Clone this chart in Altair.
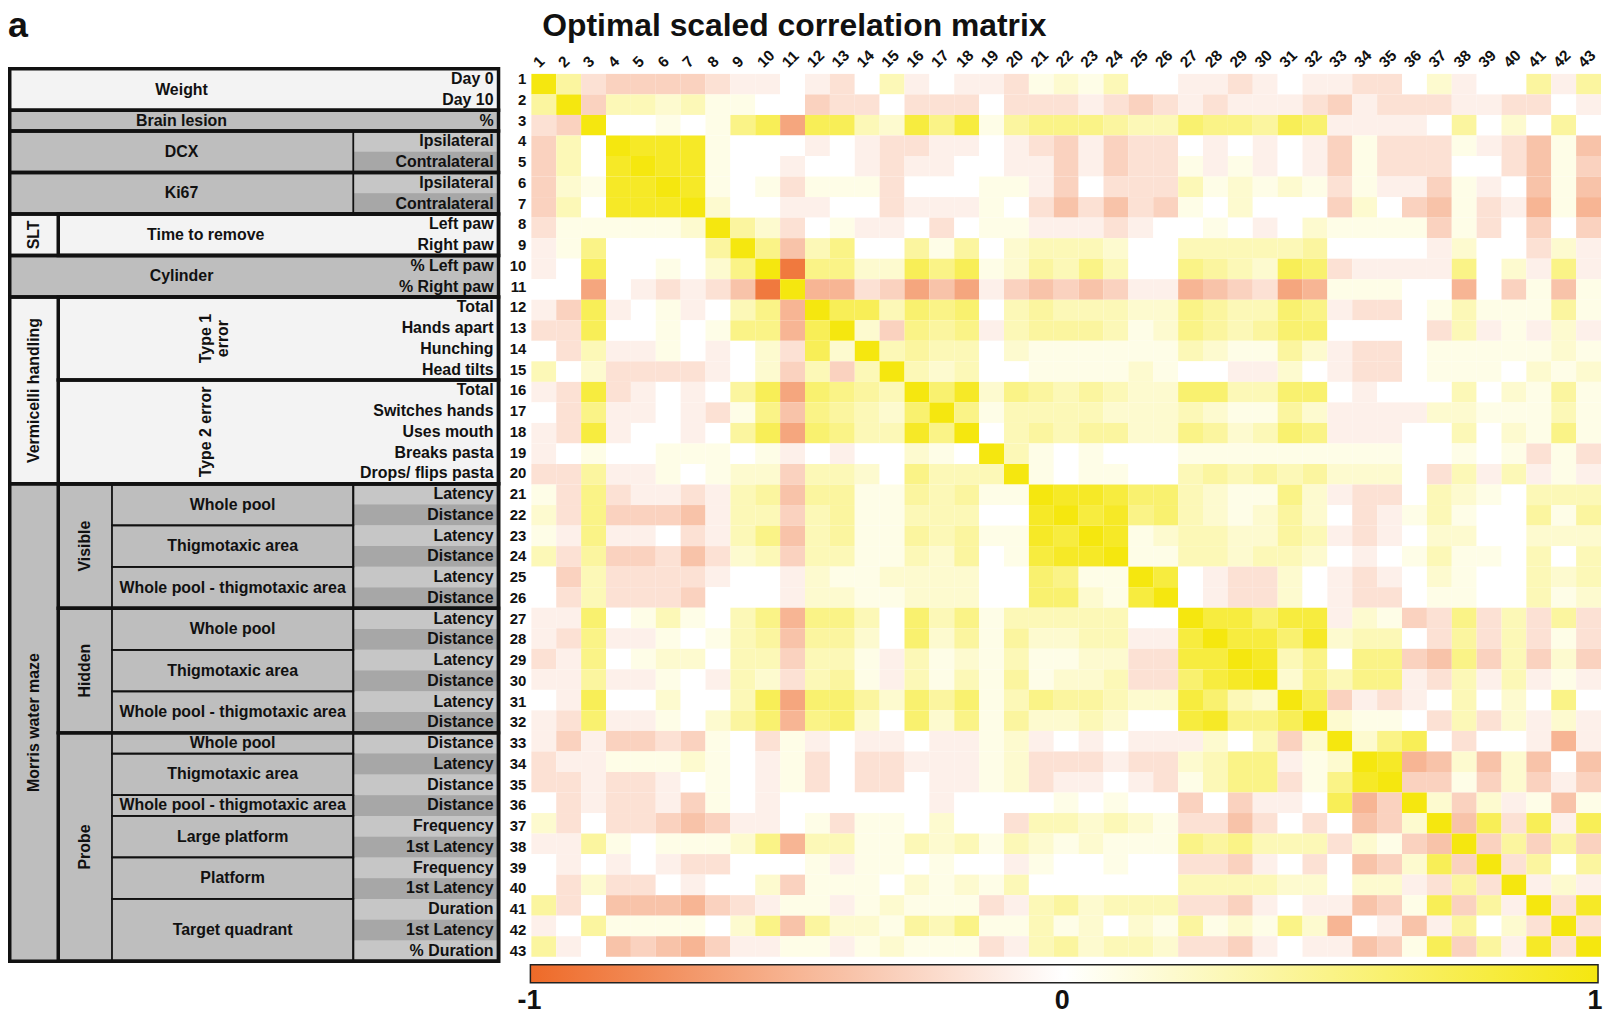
import altair as alt
import pandas as pd

# ---------------- correlation values (tenths), upper triangle ----------------
# row i lists the values for columns i+1 .. 43 (matrix is symmetric, diagonal = 1)
r01 = [4,-2,-3,-3,-3,-3,-2,-1,-1,0,-1,-2,0,3,-1,0,-1,-1,-2,1,2,1,3,0,0,-1,-1,-2,-1,0,-1,-1,-2,-2,0,2,-1,0,0,4,-1,4]
r02 = [-3,3,3,2,3,1,1,0,0,-3,-2,-2,0,-2,-2,-2,0,-2,-2,-2,-1,-2,-3,-2,-1,-2,-1,-1,-1,-2,-3,-1,-2,-2,-2,-1,-1,-2,-2,0,-1]
r03 = [0,0,1,0,1,5,7,-6,7,7,3,2,8,5,8,1,4,5,5,5,4,3,3,6,5,5,4,7,6,-1,-1,-1,-1,0,4,0,2,0,4,0]
r04 = [9,9,9,1,0,0,0,-1,0,-1,-2,-2,-1,-1,0,-1,-2,-3,-1,-3,-2,-2,0,-1,0,-1,0,-1,-3,1,-2,-2,-2,1,-1,-2,-4,1,-4]
r05 = [9,9,1,0,0,-1,0,0,-1,-2,-1,-1,0,0,-1,-1,-3,-1,-3,-2,-2,1,-1,1,-1,0,-1,-3,1,-2,-2,-2,0,0,-2,-4,1,-3]
r06 = [9,1,0,1,-2,1,1,1,-2,0,0,0,1,1,-1,-3,0,-2,-2,-2,3,1,2,1,2,1,-2,1,-1,-1,-3,1,-1,0,-4,1,-4]
r07 = [2,0,0,-1,-1,0,0,-2,-1,-1,-1,1,0,-2,-4,-2,-4,-2,-3,1,0,2,0,0,0,-3,2,0,-3,-4,1,-2,-1,-5,1,-5]
r08 = [4,2,-2,0,1,-1,-1,0,-2,0,1,1,-1,-1,-1,-2,-1,0,0,1,0,-1,0,2,1,1,1,1,-3,1,-2,0,-3,0,-3]
r09 = [5,-4,3,5,0,0,4,1,4,0,2,3,3,3,2,0,0,3,3,3,3,3,4,0,0,0,0,-1,2,0,0,-2,2,-1]
r10 = [-9,5,5,2,2,7,5,7,1,2,4,3,5,3,0,0,5,4,3,2,7,6,-2,-1,-1,-1,-1,5,0,2,-1,5,-1]
r11 = [-5,-5,-2,-3,-6,-4,-6,-1,-3,-4,-3,-4,-3,-1,-1,-5,-4,-3,-2,-6,-5,1,1,1,0,0,-5,0,-3,1,-4,1]
r12 = [7,7,3,6,5,6,0,3,4,3,3,3,2,2,5,4,3,3,6,5,-1,-2,-2,0,1,3,1,1,1,4,1]
r13 = [2,-3,5,4,5,-1,3,4,4,4,3,1,2,5,4,3,4,6,6,0,0,0,0,-2,3,-1,1,-1,2,-1]
r14 = [3,4,3,3,0,2,1,1,1,1,1,1,3,2,1,1,4,2,-1,-2,-2,0,1,1,1,1,1,2,1]
r15 = [3,2,3,0,0,1,1,1,1,2,1,0,0,-1,-1,2,0,-1,-2,-2,0,1,1,1,0,2,1,2]
r16 = [6,9,2,5,4,3,4,3,2,2,6,6,3,3,6,6,0,-1,0,0,0,3,0,2,1,4,1]
r17 = [5,1,3,3,3,3,2,2,2,3,2,1,1,4,2,-1,-1,-1,-1,2,2,1,1,1,3,1]
r18 = [0,3,4,3,4,4,2,2,5,4,2,3,6,5,-1,-1,-1,0,0,3,0,2,1,5,1]
r19 = [3,1,0,1,0,0,0,1,1,1,1,1,1,1,1,1,0,0,1,0,1,-2,1,-2]
r20 = [1,0,1,1,0,0,3,4,3,4,3,4,2,2,2,0,-2,3,-1,3,-1,1,-1]
r21 = [9,9,8,6,6,3,2,1,1,5,2,-1,-2,-2,0,3,2,1,0,3,3,3]
r22 = [8,9,5,6,3,2,1,2,4,2,0,-2,-1,1,3,1,0,0,4,1,4]
r23 = [9,1,2,3,3,2,2,4,3,-1,-2,-1,0,2,2,0,0,2,2,2]
r24 = [1,1,3,3,2,3,3,2,0,-1,0,1,3,1,1,0,3,0,3]
r25 = [8,0,-1,-2,-2,2,0,-1,-2,-1,0,2,1,0,0,3,2,3]
r26 = [0,-1,-2,-2,2,0,-1,-2,-2,0,1,1,0,0,3,1,2]
r27 = [8,8,6,8,8,-1,2,1,-3,-2,5,-2,3,-2,4,-2]
r28 = [8,8,6,9,2,3,3,0,-2,4,-2,3,-2,1,-2]
r29 = [9,3,5,0,5,5,-3,-4,5,-3,3,-3,2,-3]
r30 = [2,5,3,5,5,-1,-2,3,-1,3,-1,1,-1]
r31 = [7,-3,-1,-2,-1,0,3,0,2,0,5,0]
r32 = [2,1,1,0,-2,3,-2,2,-1,2,-1]
r33 = [2,5,7,0,-2,0,0,-1,-5,-1]
r34 = [9,-5,-4,2,-4,2,-4,0,-4]
r35 = [-3,-3,1,-3,2,-3,-1,-3]
r36 = [2,-3,2,-1,1,-4,1]
r37 = [-4,7,-2,7,-1,7]
r38 = [-3,4,-3,4,-3]
r39 = [-2,4,0,4]
r40 = [-1,2,-1]
r41 = [-2,9]
r42 = [-2]

upper = [r01, r02, r03, r04, r05, r06, r07, r08, r09, r10, r11, r12, r13, r14,
         r15, r16, r17, r18, r19, r20, r21, r22, r23, r24, r25, r26, r27, r28,
         r29, r30, r31, r32, r33, r34, r35, r36, r37, r38, r39, r40, r41, r42]
N = 43
for k, row in enumerate(upper):
    assert len(row) == N - 1 - k, (k + 1, len(row))

# ---------------- table labels ----------------
leaf_labels = ["Day 0", "Day 10", "%", "Ipsilateral", "Contralateral", "Ipsilateral",
               "Contralateral", "Left paw", "Right paw", "% Left paw", "% Right paw",
               "Total", "Hands apart", "Hunching", "Head tilts", "Total", "Switches hands",
               "Uses mouth", "Breaks pasta", "Drops/ flips pasta",
               "Latency", "Distance", "Latency", "Distance", "Latency", "Distance",
               "Latency", "Distance", "Latency", "Distance", "Latency", "Distance",
               "Distance", "Latency", "Distance", "Distance", "Frequency", "1st Latency",
               "Frequency", "1st Latency", "Duration", "1st Latency", "% Duration"]

block_names = ["Weight", "Brain lesion", "DCX", "Ki67", "SLT", "Cylinder",
               "Vermicelli handling", "Morris water maze"]
block_start = [1, 3, 4, 6, 8, 10, 12, 21]
block_end = [2, 3, 5, 7, 9, 11, 20, 43]
block_shade = ["light", "gray", "gray", "gray", "light", "gray", "light", "gray"]
block_label_kind = ["wide", "wide", "wide", "wide", "side", "wide", "side", "side"]

sub_names = ["Time to remove", "Type 1\nerror", "Type 2 error", "Visible", "Hidden", "Probe"]
sub_start = [8, 12, 16, 21, 27, 33]
sub_end = [9, 15, 20, 26, 32, 43]
sub_kind = ["flat", "rot_wide", "rot_wide", "rot", "rot", "rot"]

measure_names = ["Whole pool", "Thigmotaxic area", "Whole pool - thigmotaxic area",
                 "Whole pool", "Thigmotaxic area", "Whole pool - thigmotaxic area",
                 "Whole pool", "Thigmotaxic area", "Whole pool - thigmotaxic area",
                 "Large platform", "Platform", "Target quadrant"]
measure_start = [21, 23, 25, 27, 29, 31, 33, 34, 36, 37, 39, 41]
measure_end = [22, 24, 26, 28, 30, 32, 33, 35, 36, 38, 40, 43]

# rows that have their own shaded leaf cell (light / dark)
leaf_cell_rows = [4, 5, 6, 7] + list(range(21, 44))
leaf_cell_shade = ["lo", "hi", "lo", "hi"] + ["lo" if (r - 21) % 2 == 0 else "hi" for r in range(21, 44)]
leaf_groups_start = [4, 6, 21, 27, 33]
leaf_groups_end = [5, 7, 26, 32, 43]

title_text = "Optimal scaled correlation matrix"
panel_letter = "a"
bar_values = [-1, 0, 1]
bar_labels = ["-1", "0", "1"]

# ---------------- styling ----------------
FONT = "Liberation Sans"
SHADES = {"light": "#F3F3F3", "gray": "#BEBEBE", "lo": "#C6C6C6", "hi": "#A7A7A7"}
NEG, MID, POS = "#EE6A28", "#FFFFFF", "#F5E70F"
XL = [1.75, 50.5, 104.5, 347.0, 493.0]   # table column boundaries (px)

W, H = 1603, 1006
XH = alt.Scale(domain=[0.5, 43.5], range=[526, 1601])     # heatmap columns
YR = alt.Scale(domain=[0.5, 43.5], range=[63.7, 951])     # heatmap rows
YT = alt.Scale(domain=[0.5, 43.5], range=[58.6, 955.4])   # table rows / row numbers
XP = alt.Scale(domain=[0, W], range=[0, W])
XB = alt.Scale(domain=[-1, 1], range=[524, 1595])         # colour bar label axis

# ---------------- heatmap data ----------------
recs = []
for i in range(1, N + 1):
    for j in range(1, N + 1):
        if i == j:
            v = 10
        elif j > i:
            v = upper[i - 1][j - i - 1]
        else:
            v = upper[j - 1][i - j - 1]
        recs.append({"row": i, "col": j, "r": v / 10})
heat_df = pd.DataFrame(recs)

heat = alt.Chart(heat_df).transform_calculate(
    x0="datum.col - 0.5", x1="datum.col + 0.5",
    y0="datum.row - 0.5", y1="datum.row + 0.5",
).mark_rect().encode(
    x=alt.X("x0:Q", scale=XH, axis=None), x2=alt.X2("x1"),
    y=alt.Y("y0:Q", scale=YR, axis=None), y2=alt.Y2("y1"),
    color=alt.Color(
        "r:Q",
        scale=alt.Scale(domain=[-1, 0, 1], range=[NEG, MID, POS], interpolate="rgb"),
        legend=alt.Legend(
            orient="none", legendX=525, legendY=959, direction="horizontal",
            gradientLength=1073, gradientThickness=18, title=None,
            values=bar_values, labelExpr="''",
            gradientStrokeColor="#222", gradientStrokeWidth=1.5, padding=0,
        ),
    ),
)

bar_text = alt.Chart(pd.DataFrame({"v": bar_values, "t": bar_labels})).mark_text(
    align="center", baseline="alphabetic", font=FONT, fontWeight="bold", fontSize=27, color="#111"
).encode(
    x=alt.X("v:Q", scale=XB, axis=None), y=alt.value(1003), text="t:N"
)

# ---------------- table fills ----------------
fill_recs = []
for n, s, e, sh in zip(block_names, block_start, block_end, block_shade):
    fill_recs.append({"xa": XL[0], "xb": XL[4], "y0": s - 0.5, "y1": e + 0.5, "fill": SHADES[sh]})
for r, sh in zip(leaf_cell_rows, leaf_cell_shade):
    fill_recs.append({"xa": XL[3], "xb": XL[4], "y0": r - 0.5, "y1": r + 0.5, "fill": SHADES[sh]})
fills = alt.Chart(pd.DataFrame(fill_recs)).mark_rect().encode(
    x=alt.X("xa:Q", scale=XP, axis=None), x2=alt.X2("xb"),
    y=alt.Y("y0:Q", scale=YT, axis=None), y2=alt.Y2("y1"),
    color=alt.Color("fill:N", scale=None),
)

# ---------------- outlines ----------------
thin_recs = []
for s, e in zip(measure_start, measure_end):
    thin_recs.append({"xa": XL[2], "xb": XL[3], "y0": s - 0.5, "y1": e + 0.5})
for s, e in zip(leaf_groups_start, leaf_groups_end):
    thin_recs.append({"xa": XL[3], "xb": XL[4], "y0": s - 0.5, "y1": e + 0.5})
thick_recs = []
for s, e in zip(block_start, block_end):
    thick_recs.append({"xa": XL[0], "xb": XL[4], "y0": s - 0.5, "y1": e + 0.5})
for s, e in zip(sub_start, sub_end):
    thick_recs.append({"xa": XL[1], "xb": XL[4], "y0": s - 0.5, "y1": e + 0.5})

def outline(recs_, width):
    return alt.Chart(pd.DataFrame(recs_)).mark_rect(
        filled=False, stroke="#111", strokeWidth=width, fillOpacity=0
    ).encode(
        x=alt.X("xa:Q", scale=XP, axis=None), x2=alt.X2("xb"),
        y=alt.Y("y0:Q", scale=YT, axis=None), y2=alt.Y2("y1"),
    )

thin = outline(thin_recs, 1.8)
thick = outline(thick_recs, 3.5)

# ---------------- table texts ----------------
flat_recs, rot_recs = [], []
for n, s, e, k in zip(block_names, block_start, block_end, block_label_kind):
    yc = (s + e) / 2
    if k == "wide":
        flat_recs.append({"t": n, "xc": (XL[0] + XL[3]) / 2, "yc": yc})
    else:
        rot_recs.append({"t": n, "xc": (XL[0] + XL[1]) / 2, "yc": yc})
for n, s, e, k in zip(sub_names, sub_start, sub_end, sub_kind):
    yc = (s + e) / 2
    if k == "flat":
        flat_recs.append({"t": n, "xc": (XL[1] + XL[3]) / 2, "yc": yc})
    elif k == "rot_wide":
        rot_recs.append({"t": n, "xc": (XL[1] + XL[3]) / 2, "yc": yc})
    else:
        rot_recs.append({"t": n, "xc": (XL[1] + XL[2]) / 2, "yc": yc})
for n, s, e in zip(measure_names, measure_start, measure_end):
    flat_recs.append({"t": n, "xc": (XL[2] + XL[3]) / 2, "yc": (s + e) / 2})

text_style = dict(font=FONT, fontWeight="bold", fontSize=16, color="#111")

flat_text = alt.Chart(pd.DataFrame(flat_recs)).mark_text(
    align="center", baseline="middle", **text_style
).encode(
    x=alt.X("xc:Q", scale=XP, axis=None), y=alt.Y("yc:Q", scale=YT, axis=None), text="t:N"
)
rot_text = alt.Chart(pd.DataFrame(rot_recs)).mark_text(
    align="center", baseline="middle", angle=270, lineBreak="\n", lineHeight=17, **text_style
).encode(
    x=alt.X("xc:Q", scale=XP, axis=None), y=alt.Y("yc:Q", scale=YT, axis=None), text="t:N"
)
leaf_df = pd.DataFrame({"row": list(range(1, N + 1)), "t": leaf_labels})
leaf_text = alt.Chart(leaf_df).mark_text(
    align="right", baseline="middle", **text_style
).encode(
    x=alt.value(488), y=alt.Y("row:Q", scale=YT, axis=None), text="t:N"
)

# ---------------- row / column numbers ----------------
num_df = pd.DataFrame({"k": list(range(1, N + 1)), "t": [str(k) for k in range(1, N + 1)]})
row_nums = alt.Chart(num_df).mark_text(
    align="right", baseline="middle", font=FONT, fontWeight="bold", fontSize=15, color="#111"
).encode(
    x=alt.value(521), y=alt.Y("k:Q", scale=YT, axis=None), text="t:N"
)
col_nums = alt.Chart(num_df).mark_text(
    align="left", baseline="middle", angle=315, dx=-11, font=FONT, fontWeight="bold",
    fontSize=15.5, color="#111"
).encode(
    x=alt.X("k:Q", scale=XH, axis=None), y=alt.value(47), text="t:N"
)

# ---------------- title and panel letter ----------------
title = alt.Chart(pd.DataFrame({"t": [title_text]})).mark_text(
    align="left", baseline="alphabetic", font=FONT, fontWeight="bold", fontSize=32, color="#111"
).encode(x=alt.value(537), y=alt.value(26), text="t:N")
letter = alt.Chart(pd.DataFrame({"t": [panel_letter]})).mark_text(
    align="left", baseline="alphabetic", font=FONT, fontWeight="bold", fontSize=36, color="#111"
).encode(x=alt.value(0), y=alt.value(27), text="t:N")

chart = alt.layer(
    fills, thin, thick, flat_text, rot_text, leaf_text,
    heat, bar_text, row_nums, col_nums, title, letter,
).resolve_scale(x="independent", y="independent").properties(
    width=W, height=H, autosize=alt.AutoSizeParams(type="none"), padding=0
).configure_view(stroke=None)

chart.save("out.html", embed_options={"renderer": "svg", "actions": False})
